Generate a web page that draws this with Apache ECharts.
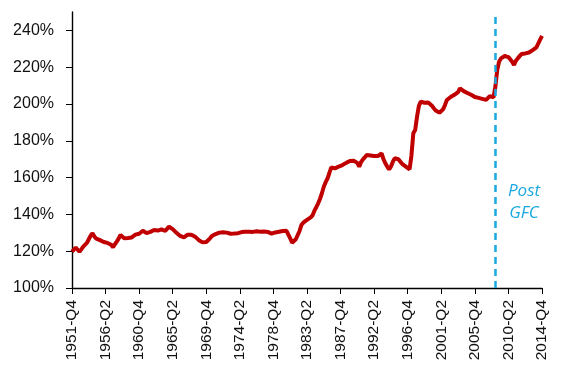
<!DOCTYPE html>
<html>
<head>
<meta charset="utf-8">
<script src="https://cdn.jsdelivr.net/npm/echarts@6/dist/echarts.min.js"></script>
<style>
  html, body { margin: 0; padding: 0; background: #fff; }
  #chart { width: 581px; height: 391px; }
</style>
</head>
<body>
<div id="chart"></div>
<script>
// quarterly categories, 1951-Q4 .. 2014-Q4
const quarters = [];
for (let q = 1951 * 4 + 3; q <= 2014 * 4 + 3; q++) {
    quarters.push(Math.floor(q / 4) + '-Q' + (q % 4 + 1));
}

// ratio in %
const ratio = [
    119.7, 120.5, 122.0, 121.0, 119.7, 121.0, 122.5, 123.4, 124.5, 126.5,
    128.5, 129.7, 128.0, 126.8, 126.5, 126.0, 125.7, 125.0, 124.3, 124.5,
    123.9, 123.5, 122.1, 123.8, 125.2, 126.8, 128.8, 128.0, 127.0, 126.5,
    127.2, 127.0, 127.5, 128.0, 129.0, 129.7, 129.5, 130.5, 131.1, 130.5,
    129.8, 129.7, 130.5, 131.0, 131.5, 131.0, 131.2, 131.5, 131.9, 131.5,
    131.1, 132.0, 133.3, 132.8, 132.0, 131.1, 130.0, 129.0, 128.3, 127.8,
    127.5, 128.0, 129.0, 129.7, 129.0, 128.2, 127.9, 127.0, 126.0, 125.5,
    124.8, 124.6, 125.0, 125.7, 127.0, 128.2, 128.8, 129.3, 129.8, 130.1,
    129.7, 130.3, 130.0, 130.1, 129.8, 129.5, 129.3, 129.6, 130.0, 129.8,
    130.1, 130.4, 130.0, 130.6, 130.2, 130.6, 131.0, 130.5, 131.1, 130.8,
    130.4, 130.6, 131.0, 130.7, 131.1, 130.5, 130.0, 129.5, 129.7, 130.2,
    130.4, 130.6, 130.8, 131.0, 130.7, 131.1, 129.0, 127.0, 124.6, 125.5,
    126.5, 127.5, 131.0, 134.2, 135.5, 136.5, 137.0, 137.8, 138.4, 139.5,
    142.0, 144.0, 146.0, 148.5, 151.5, 155.0, 157.5, 159.5, 162.5, 165.6,
    165.3, 165.0, 165.1, 166.0, 166.5, 166.8, 167.5, 168.0, 168.3, 169.0,
    169.6, 169.2, 169.9, 168.0, 165.9, 168.5, 169.9, 171.0, 172.3, 173.2,
    172.0, 171.4, 171.7, 171.5, 171.7, 172.5, 173.2, 170.0, 167.8, 166.0,
    164.5, 166.0, 168.5, 170.5, 171.0, 170.0, 168.7, 167.5, 166.8, 166.0,
    165.2, 164.5, 172.0, 184.1, 185.9, 193.1, 199.0, 201.3, 200.8, 200.7,
    200.5, 200.8, 200.4, 199.0, 197.7, 196.5, 196.0, 195.3, 196.0, 197.1,
    199.5, 202.2, 203.0, 203.8, 204.3, 205.0, 205.8, 206.5, 208.5, 207.5,
    207.0, 206.7, 206.0, 205.4, 205.0, 204.3, 203.8, 203.6, 203.3, 203.1,
    202.8, 202.5, 202.2, 203.0, 204.3, 203.8, 203.6, 209.4, 218.5, 223.0,
    224.8, 225.5, 226.1, 225.8, 225.5, 225.4, 223.0, 221.2, 223.5, 224.8,
    226.0, 227.2, 227.0, 227.5, 228.1, 228.0, 228.8, 229.3, 230.0, 230.8,
    231.5, 235.0, 237.0
];

const gfcQuarter = '2008-Q3';
const gfcLabel = 'Post\nGFC';

const chart = echarts.init(document.getElementById('chart'));

chart.setOption({
    animation: false,
    grid: { left: 72, right: 39, top: 12, bottom: 103 },
    xAxis: {
        type: 'category',
        data: quarters,
        boundaryGap: false,
        axisLine: { lineStyle: { color: '#000', width: 1.4 } },
        axisTick: { interval: 17, length: 6, lineStyle: { color: '#000' } },
        axisLabel: {
            interval: 17,
            rotate: 90,
            margin: 12,
            color: '#111',
            fontSize: 15.5,
            fontFamily: 'Liberation Sans'
        },
        splitLine: { show: false }
    },
    yAxis: {
        type: 'value',
        min: 100,
        max: 250,
        interval: 20,
        axisLine: { show: true, lineStyle: { color: '#000', width: 1.4 } },
        axisTick: { show: true, length: 6, lineStyle: { color: '#000' } },
        axisLabel: {
            formatter: '{value}%',
            showMaxLabel: false,
            margin: 18,
            color: '#111',
            fontSize: 16,
            fontFamily: 'Liberation Sans'
        },
        splitLine: { show: false }
    },
    series: [{
        type: 'line',
        data: ratio,
        symbol: 'none',
        lineStyle: { color: '#C00000', width: 4 },
        markLine: {
            silent: true,
            symbol: 'none',
            label: { show: false },
            lineStyle: { color: '#1AA8E0', type: [7, 5], width: 2.5 },
            data: [{ xAxis: gfcQuarter }]
        }
    }],
    graphic: [{
        type: 'text',
        x: 524,
        y: 180,
        style: {
            text: gfcLabel,
            textAlign: 'center',
            fill: '#1AA8E0',
            font: 'italic 17px "Open Sans"',
            lineHeight: 22
        }
    }]
});
</script>
</body>
</html>
